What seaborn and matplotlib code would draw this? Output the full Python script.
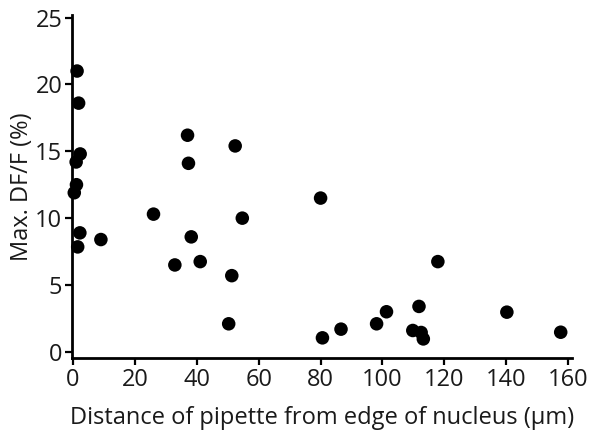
import pandas as pd
import seaborn as sns
import matplotlib.pyplot as plt

# distance of pipette from nucleus edge (um) and max DF/F (%)
distance = [1.3, 1.8, 2.3, 1.0, 1.1, 0.4, 2.2, 1.5, 9.0, 26.0,
            37.0, 37.3, 38.2, 32.9, 41.1, 52.4, 54.7, 51.3, 50.3,
            80.0, 80.6, 86.6, 98.1, 101.3, 111.8, 109.8, 112.5, 113.2,
            117.9, 140.2, 157.6]
max_dff = [21.0, 18.6, 14.8, 14.2, 12.5, 11.9, 8.9, 7.85, 8.4, 10.3,
           16.2, 14.1, 8.6, 6.5, 6.75, 15.4, 10.0, 5.7, 2.1,
           11.5, 1.05, 1.7, 2.1, 3.0, 3.4, 1.6, 1.45, 0.97,
           6.75, 2.97, 1.47]
xticks = [0, 20, 40, 60, 80, 100, 120, 140, 160]
yticks = [0, 5, 10, 15, 20, 25]

df = pd.DataFrame({'distance': distance, 'max_dff': max_dff})

sns.set_style('ticks')
plt.rcParams['font.family'] = ['Open Sans', 'DejaVu Sans']

fig, ax = plt.subplots(figsize=(6.01, 4.37), dpi=100)
fig.subplots_adjust(left=0.12, right=0.952, top=0.966, bottom=0.181)
sns.scatterplot(ax=ax, data=df, x='distance', y='max_dff', color='black',
                s=95, edgecolor='none', clip_on=False, zorder=3)

ax.set_xlim(-0.3, 161.3)
ax.set_ylim(-0.45, 25.2)
ax.set_xticks(xticks)
ax.set_yticks(yticks)
ax.tick_params(labelsize=17, width=1.6, length=5, color='black',
               labelcolor='#1a1a1a', pad=2)
for side in ['top', 'right']:
    ax.spines[side].set_visible(False)
for side in ['left', 'bottom']:
    ax.spines[side].set_linewidth(2)
    ax.spines[side].set_color('black')
ax.set_xlabel("Distance of pipette from edge of nucleus (μm)", fontsize=17,
              labelpad=10, color='#1a1a1a')
ax.set_ylabel("Max. DF/F (%)", fontsize=17, labelpad=1, color='#1a1a1a')

plt.savefig("out.png", dpi=100)
